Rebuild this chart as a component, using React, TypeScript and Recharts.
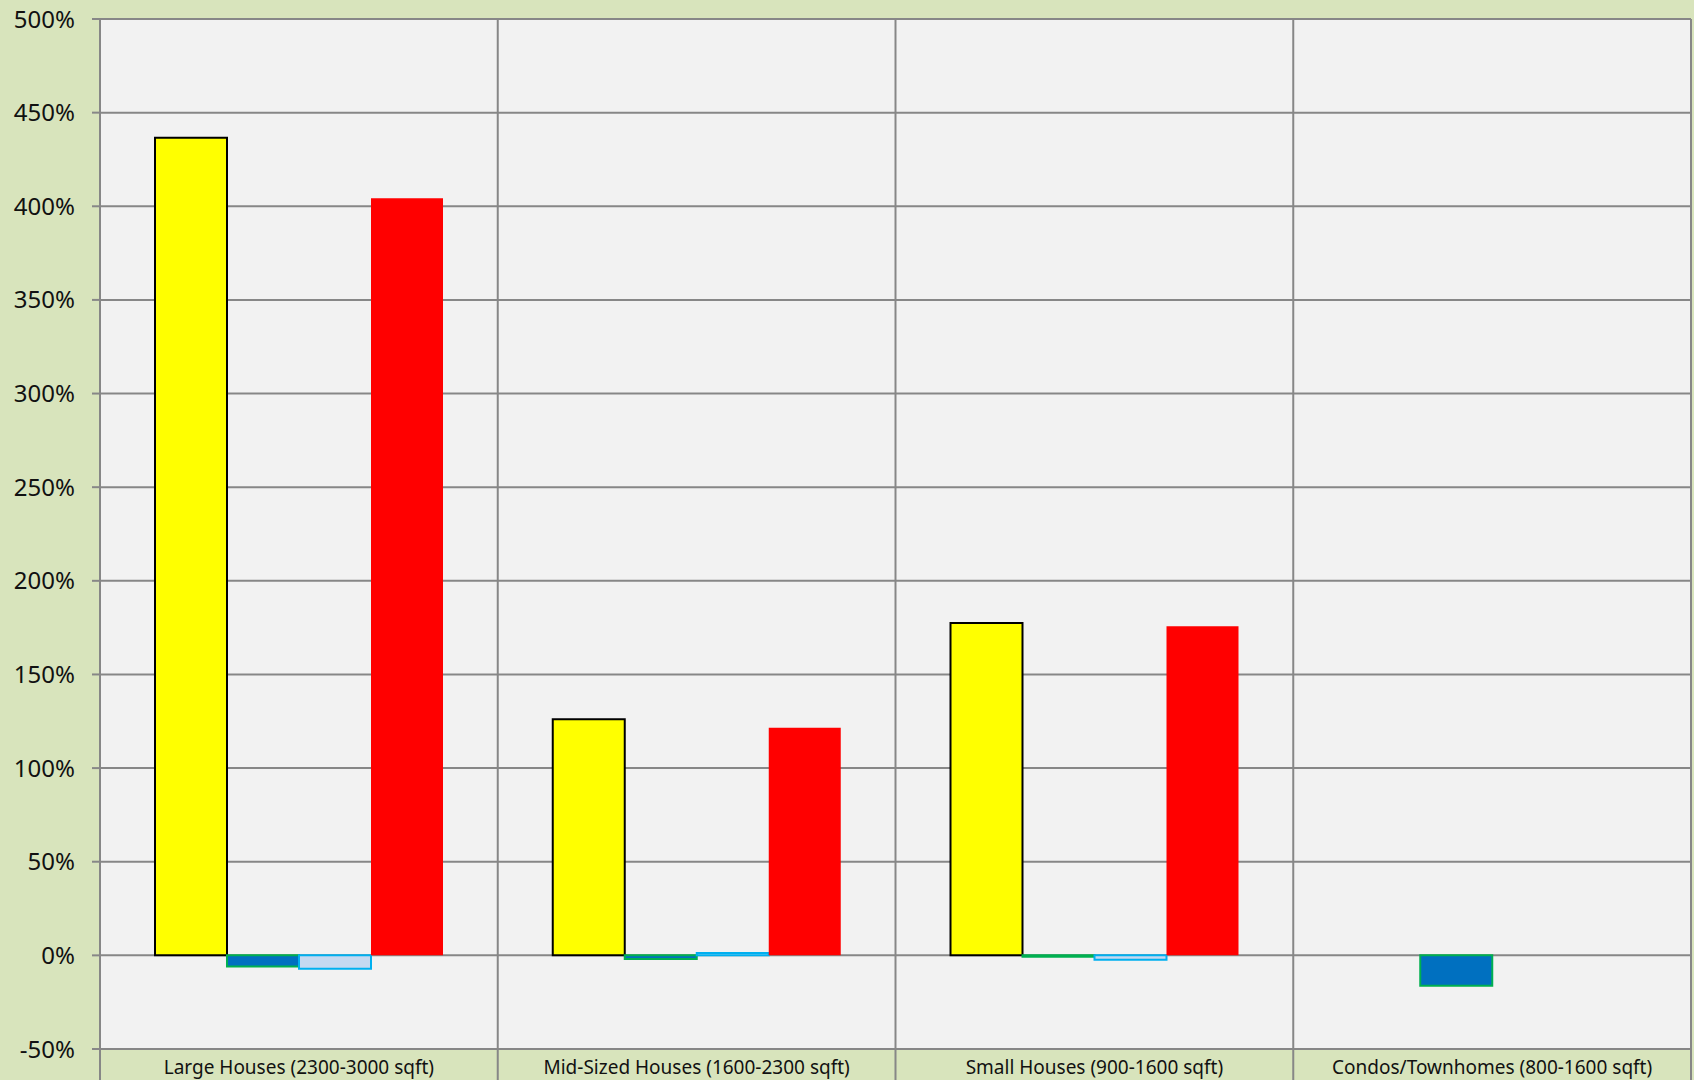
import { BarChart, Bar, XAxis, YAxis, CartesianGrid } from 'recharts'

const categories = [
  'Large Houses (2300-3000 sqft)',
  'Mid-Sized Houses (1600-2300 sqft)',
  'Small Houses (900-1600 sqft)',
  'Condos/Townhomes (800-1600 sqft)',
]
const yellowValues = [436.6, 126.1, 177.5, null]
const blueValues = [-5.9, -1.9, -0.8, -16.2]
const lightBlueValues = [-7.1, 1.3, -2.3, null]
const redValues = [404.3, 121.5, 175.8, null]
const yTicks = [-50, 0, 50, 100, 150, 200, 250, 300, 350, 400, 450, 500]

const W = 1694
const H = 1080
const LEFT = 100
const RIGHT = 3
const TOP = 19
const AXIS_H = 31
const PLOT_W = W - LEFT - RIGHT
const GRID = '#878787'
const FONT = '"Noto Sans", sans-serif'

const data = categories.map((name, i) => ({
  name,
  yellow: yellowValues[i],
  blue: blueValues[i],
  lightBlue: lightBlueValues[i],
  red: redValues[i],
}))

function CategoryTick(props: any) {
  const { x, payload, index } = props
  const band = PLOT_W / categories.length
  const left = x - band / 2
  const top = H - AXIS_H
  return (
    <g>
      <line x1={left} x2={left} y1={top} y2={H} stroke={GRID} strokeWidth={2} />
      {index === categories.length - 1 && (
        <line x1={left + band} x2={left + band} y1={top} y2={H} stroke={GRID} strokeWidth={2} />
      )}
      <text
        x={x}
        y={top + 18}
        dy="0.35em"
        textAnchor="middle"
        fontSize={19}
        fontFamily={FONT}
        fill="#111"
      >
        {payload.value}
      </text>
    </g>
  )
}

export default function App() {
  return (
    <div style={{ position: 'fixed', left: 0, top: 0, width: W, height: H, background: '#D8E4BC' }}>
      <BarChart
        width={W}
        height={H}
        data={data}
        margin={{ top: TOP, right: RIGHT, left: 0, bottom: 0 }}
        barCategoryGap={55}
        barGap={0}
      >
        <CartesianGrid
          fill="#F2F2F2"
          stroke={GRID}
          strokeWidth={2}
          verticalCoordinatesGenerator={({ offset }: any) =>
            [0, 1, 2, 3, 4].map((i) => offset.left + (i * offset.width) / 4)
          }
        />
        <XAxis
          dataKey="name"
          height={AXIS_H}
          axisLine={{ stroke: GRID, strokeWidth: 2 }}
          tickLine={false}
          tick={<CategoryTick />}
          interval={0}
        />
        <YAxis
          width={LEFT}
          domain={[-50, 500]}
          ticks={yTicks}
          allowDataOverflow
          axisLine={{ stroke: GRID, strokeWidth: 2 }}
          tickLine={{ stroke: GRID, strokeWidth: 2 }}
          tickSize={8}
          tickMargin={17}
          tickFormatter={(v: number) => `${v}%`}
          tick={{ fontSize: 24, fontFamily: FONT, fill: '#111' }}
        />
        <Bar dataKey="yellow" fill="#FFFF00" stroke="#000" strokeWidth={2} isAnimationActive={false} />
        <Bar dataKey="blue" fill="#0070C0" stroke="#00B050" strokeWidth={2} isAnimationActive={false} />
        <Bar dataKey="lightBlue" fill="#C5D9F1" stroke="#00B0F0" strokeWidth={2} isAnimationActive={false} />
        <Bar dataKey="red" fill="#FF0000" isAnimationActive={false} />
      </BarChart>
    </div>
  )
}
